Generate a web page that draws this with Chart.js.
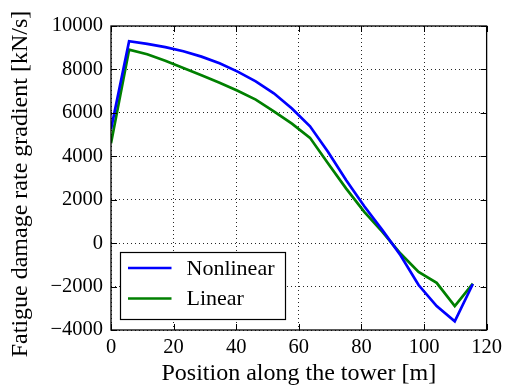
<!DOCTYPE html>
<html><head><meta charset="utf-8">
<script src="https://cdn.jsdelivr.net/npm/chart.js@4"></script>
<style>html,body{margin:0;padding:0;background:#fff;overflow:hidden}</style>
</head><body>
<canvas id="c" width="507" height="388"></canvas>
<script>
// ---- data ----
const positions = [0, 5.78, 11.56, 17.34, 23.12, 28.9, 34.68, 40.46, 46.24, 52.02, 57.8,
                   63.58, 69.36, 75.14, 80.92, 86.7, 92.48, 98.26, 104.04, 109.82, 115.6];
const nonlinear = [5250, 9300, 9180, 9030, 8840, 8590, 8280, 7900, 7450, 6900, 6200,
                   5380, 4200, 2900, 1700, 600, -560, -1930, -2900, -3600, -1880];
const linear    = [4600, 8910, 8700, 8400, 8070, 7730, 7390, 7020, 6610, 6070, 5500,
                   4850, 3670, 2510, 1440, 520, -480, -1330, -1830, -2900, -1860];
const seriesLabels = ['Nonlinear', 'Linear'];
const seriesColors = ['#0000ff', '#008000'];
const xTicks = [0, 20, 40, 60, 80, 100, 120];
const yTicks = [-4000, -2000, 0, 2000, 4000, 6000, 8000, 10000];
const xTitle = 'Position along the tower [m]';
const yTitle = 'Fatigue damage rate gradient [kN/s]';

const serif = "'Liberation Serif', 'Times New Roman', serif";

const toPoints = (vals) => positions.map((x, i) => ({x, y: vals[i]}));

const decor = {
  id: 'decor',
  afterDatasetsDraw(chart) {
    const {ctx, chartArea: a, scales: {x, y}} = chart;
    ctx.save();
    ctx.strokeStyle = '#000';
    ctx.lineWidth = 1;
    const L = 6;
    ctx.beginPath();
    xTicks.forEach(v => {
      const p = Math.round(x.getPixelForValue(v)) + 0.5;
      ctx.moveTo(p, a.bottom); ctx.lineTo(p, a.bottom - L);
      ctx.moveTo(p, a.top); ctx.lineTo(p, a.top + L);
    });
    yTicks.forEach(v => {
      const p = Math.round(y.getPixelForValue(v)) + 0.5;
      ctx.moveTo(a.left, p); ctx.lineTo(a.left + L, p);
      ctx.moveTo(a.right, p); ctx.lineTo(a.right - L, p);
    });
    ctx.stroke();
    ctx.lineWidth = 1.3;
    ctx.strokeRect(a.left, a.top, a.right - a.left, a.bottom - a.top);
    ctx.restore();
  },
  afterDraw(chart) {
    const {ctx, chartArea: a} = chart;
    const bx = a.left + 9.5, bw = 165, bh = 67, by = a.bottom - 10.5 - bh;
    ctx.save();
    ctx.fillStyle = '#fff';
    ctx.fillRect(bx, by, bw, bh);
    ctx.strokeStyle = '#000';
    ctx.lineWidth = 1.2;
    ctx.strokeRect(bx, by, bw, bh);
    ctx.font = "22px " + serif;
    ctx.textBaseline = 'middle';
    ctx.textAlign = 'left';
    const rows = [15.5, 46];
    chart.data.datasets.forEach((ds, i) => {
      const yy = by + rows[i];
      ctx.strokeStyle = ds.borderColor;
      ctx.lineWidth = 2.7;
      ctx.beginPath();
      ctx.moveTo(bx + 7.5, yy); ctx.lineTo(bx + 51, yy);
      ctx.stroke();
      ctx.fillStyle = '#000';
      ctx.fillText(ds.label, bx + 66, yy + 1);
    });
    ctx.restore();
  }
};

new Chart(document.getElementById('c'), {
  type: 'line',
  data: {
    datasets: [
      {label: seriesLabels[0], data: toPoints(nonlinear), borderColor: seriesColors[0], backgroundColor: seriesColors[0], borderWidth: 2.7, pointRadius: 0, tension: 0, fill: false},
      {label: seriesLabels[1], data: toPoints(linear), borderColor: seriesColors[1], backgroundColor: seriesColors[1], borderWidth: 2.7, pointRadius: 0, tension: 0, fill: false}
    ]
  },
  plugins: [decor],
  options: {
    responsive: false,
    devicePixelRatio: 1,
    animation: false,
    layout: {padding: {top: 26, right: 16, left: 0, bottom: 0}},
    plugins: {legend: {display: false}, tooltip: {enabled: false}},
    scales: {
      x: {
        type: 'linear', min: 0, max: 120,
        afterFit: s => { s.height = 58; },
        afterBuildTicks: s => { s.ticks = xTicks.map(v => ({value: v})); },
        ticks: {color: '#000', font: {family: serif, size: 20.5}, padding: 5, maxRotation: 0, autoSkip: false},
        grid: {color: 'rgba(0,0,0,0.85)', lineWidth: 1, drawTicks: false},
        border: {display: false, dash: [1, 3]},
        title: {display: true, text: xTitle, color: '#000', font: {family: serif, size: 24}, padding: {top: 4, bottom: 0}}
      },
      y: {
        type: 'linear', min: -4000, max: 10000,
        afterFit: s => { s.width = 111; },
        afterBuildTicks: s => { s.ticks = yTicks.map(v => ({value: v})); },
        ticks: {color: '#000', font: {family: serif, size: 20.5}, padding: 8, autoSkip: false,
                callback: v => v < 0 ? '\u2212' + Math.abs(v) : String(v)},
        grid: {color: 'rgba(0,0,0,0.85)', lineWidth: 1, drawTicks: false},
        border: {display: false, dash: [1, 3]},
        title: {display: true, text: yTitle + '\u00a0\u00a0', color: '#000', font: {family: serif, size: 24}, padding: {top: 6, bottom: 0}}
      }
    }
  }
});
</script>
</body></html>
